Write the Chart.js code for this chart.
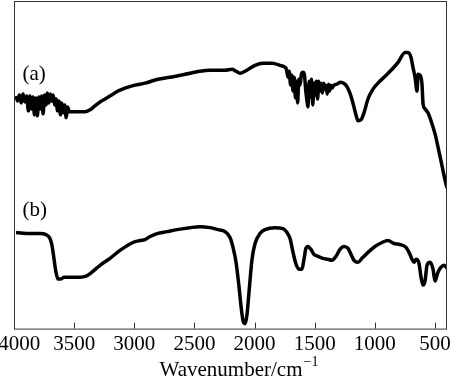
<!DOCTYPE html>
<html>
<head>
<meta charset="utf-8">
<script src="https://cdn.jsdelivr.net/npm/chart.js@4"></script>
<style>
  body { margin: 0; background: #fff; }
</style>
</head>
<body>
<canvas id="irChart" width="450" height="379"></canvas>
<script>
// spectrum (a) - wavenumber / relative transmittance (arbitrary units)
const waveA = [3983, 3970, 3955, 3940, 3925, 3910, 3895, 3880, 3868, 3855, 3842, 3830, 3818, 3806, 3794, 3782,
  3770, 3758, 3746, 3734, 3722, 3710, 3698, 3686, 3674, 3662, 3650, 3638, 3626, 3614, 3602, 3590, 3578, 3566,
  3554, 3540, 3518, 3476, 3410, 3368, 3327, 3285, 3243, 3202, 3135, 3077, 2994, 2911,
  2803, 2703, 2578, 2454, 2370, 2304, 2246, 2187, 2154, 2121, 2079, 2038, 1996, 1929, 1855, 1788,
  1747, 1735, 1722, 1712, 1700, 1690, 1680, 1670, 1660, 1650, 1642, 1632, 1622, 1610, 1597, 1585, 1574,
  1564, 1556, 1546, 1536, 1526, 1516, 1506, 1496, 1486, 1476, 1466, 1456, 1446, 1436, 1426, 1416, 1406,
  1396, 1386, 1376, 1366, 1356, 1340, 1315, 1290, 1240, 1207, 1182, 1157, 1140, 1115, 1090, 1057, 1015,
  974, 915, 857, 807, 749, 724, 699, 683, 666, 649, 641, 624, 608, 599, 583, 558, 525, 500, 458, 416, 400];
const signalA = [235, 230, 236, 228, 237, 229, 235, 220, 235, 222, 234, 216, 233, 215, 234, 222,
  235, 217, 236, 226, 238, 228, 237, 230, 236, 226, 232, 220, 230, 216, 228, 218, 226, 213,
  224, 219, 219, 219, 219, 221, 225, 229, 232, 235, 240, 243, 246, 248,
  252, 254, 257, 260, 261, 261, 261, 262, 260, 258, 260, 263, 266, 268, 268, 266,
  264, 262, 254, 260, 246, 256, 240, 254, 233, 250, 228, 252, 246, 257, 259, 256, 240,
  230, 224, 250, 234, 252, 226, 248, 236, 250, 232, 250, 240, 248, 238, 248, 242, 246,
  237, 247, 240, 246, 243, 246, 247, 249, 246, 238, 228, 216, 210, 211, 218, 232, 242,
  248, 255, 262, 269, 279, 279, 274, 264, 254, 240, 257, 256, 247, 227, 222, 218, 207, 197, 174, 150, 142];

// spectrum (b)
const waveB = [3983, 3867, 3784, 3734, 3701, 3684, 3667, 3651, 3634, 3609, 3584, 3534, 3451, 3401, 3352, 3285,
  3202, 3119, 3011, 2952, 2911, 2869, 2811, 2728, 2645, 2537, 2454, 2370, 2304, 2246, 2204, 2179, 2154, 2129,
  2112, 2096, 2079, 2063, 2046, 2021, 1996, 1955, 1913, 1830, 1764, 1730, 1705, 1680, 1655, 1630, 1606, 1589,
  1573, 1556, 1531, 1506, 1473, 1432, 1390, 1356, 1323, 1290, 1257, 1223, 1198, 1173, 1140, 1107, 1057, 999,
  940, 891, 841, 791, 741, 708, 691, 674, 658, 633, 616, 599, 583, 566, 541, 516, 500, 475, 450, 425, 400];
const signalB = [97, 96, 96, 95, 91, 84, 70, 57, 50, 50, 52, 52, 52, 53, 57, 64,
  71, 79, 87, 89, 90, 93, 96, 98, 100, 102, 103, 102, 100, 98, 92, 82, 67, 42,
  22, 8, 5, 14, 37, 70, 86, 96, 100, 102, 101, 97, 91, 77, 65, 60, 60, 70,
  81, 83, 80, 75, 73, 71, 70, 69, 73, 80, 83, 81, 75, 69, 67, 71, 77, 83,
  87, 89, 86, 85, 82, 75, 70, 67, 70, 66, 52, 44, 48, 64, 67, 60, 48, 57, 62, 64, 61];

const xTicks = [4000, 3500, 3000, 2500, 2000, 1500, 1000, 500];
const seriesNames = ['(a)', '(b)'];

const serif = "'Liberation Serif', 'Times New Roman', serif";

const toPoints = (xs, ys) => xs.map((x, i) => ({ x: x, y: ys[i] }));

// frame, inward ticks, series labels and axis title
const decorations = {
  id: 'decorations',
  afterDraw(chart) {
    const { ctx, chartArea: a, scales } = chart;
    ctx.save();
    ctx.strokeStyle = '#333';
    ctx.lineWidth = 1;
    ctx.strokeRect(a.left + 0.5, a.top + 0.5, a.right - a.left - 1, a.bottom - a.top);
    ctx.beginPath();
    xTicks.forEach(t => {
      const px = Math.round(scales.x.getPixelForValue(t)) + 0.5;
      ctx.moveTo(px, a.bottom);
      ctx.lineTo(px, a.bottom - 6);
    });
    ctx.stroke();

    ctx.fillStyle = '#000';
    ctx.font = '21px ' + serif;
    ctx.textBaseline = 'middle';
    ctx.textAlign = 'left';
    ctx.fillText(seriesNames[0], scales.x.getPixelForValue(3930), scales.y.getPixelForValue(257));
    ctx.fillText(seriesNames[1], scales.x.getPixelForValue(3930), scales.y.getPixelForValue(119));

    ctx.textBaseline = 'alphabetic';
    const main = 'Wavenumber/cm';
    const sup = '\u22121';
    const w1 = ctx.measureText(main).width;
    ctx.font = '14px ' + serif;
    const w2 = ctx.measureText(sup).width;
    const x0 = (a.left + a.right) / 2 + 8 - (w1 + w2) / 2;
    ctx.font = '21px ' + serif;
    ctx.fillText(main, x0, 376);
    ctx.font = '14px ' + serif;
    ctx.fillText(sup, x0 + w1 + 1, 366);
    ctx.restore();
  }
};

new Chart(document.getElementById('irChart').getContext('2d'), {
  type: 'line',
  data: {
    datasets: [
      { label: seriesNames[0], data: toPoints(waveA, signalA) },
      { label: seriesNames[1], data: toPoints(waveB, signalB) }
    ]
  },
  options: {
    responsive: false,
    animation: false,
    layout: { padding: { left: 14, right: 3, top: 1, bottom: 18.4 } },
    elements: {
      line: { borderColor: '#000', borderWidth: 3.5, cubicInterpolationMode: 'monotone', fill: false },
      point: { radius: 0, borderWidth: 0 }
    },
    plugins: { legend: { display: false }, tooltip: { enabled: false } },
    scales: {
      x: {
        type: 'linear',
        reverse: true,
        min: 400,
        max: 4000,
        afterBuildTicks: scale => { scale.ticks = xTicks.map(v => ({ value: v })); },
        afterFit: scale => { scale.paddingLeft = 0; scale.paddingRight = 0; },
        grid: { display: false, drawTicks: false },
        border: { display: false },
        ticks: {
          padding: 3.4,
          color: '#000',
          maxRotation: 0,
          autoSkip: false,
          font: { family: serif, size: 21 },
          callback: v => (v === 4000 ? '  ' + v : String(v))
        }
      },
      y: {
        display: false,
        min: 0,
        max: 331
      }
    }
  },
  plugins: [decorations]
});
</script>
</body>
</html>
